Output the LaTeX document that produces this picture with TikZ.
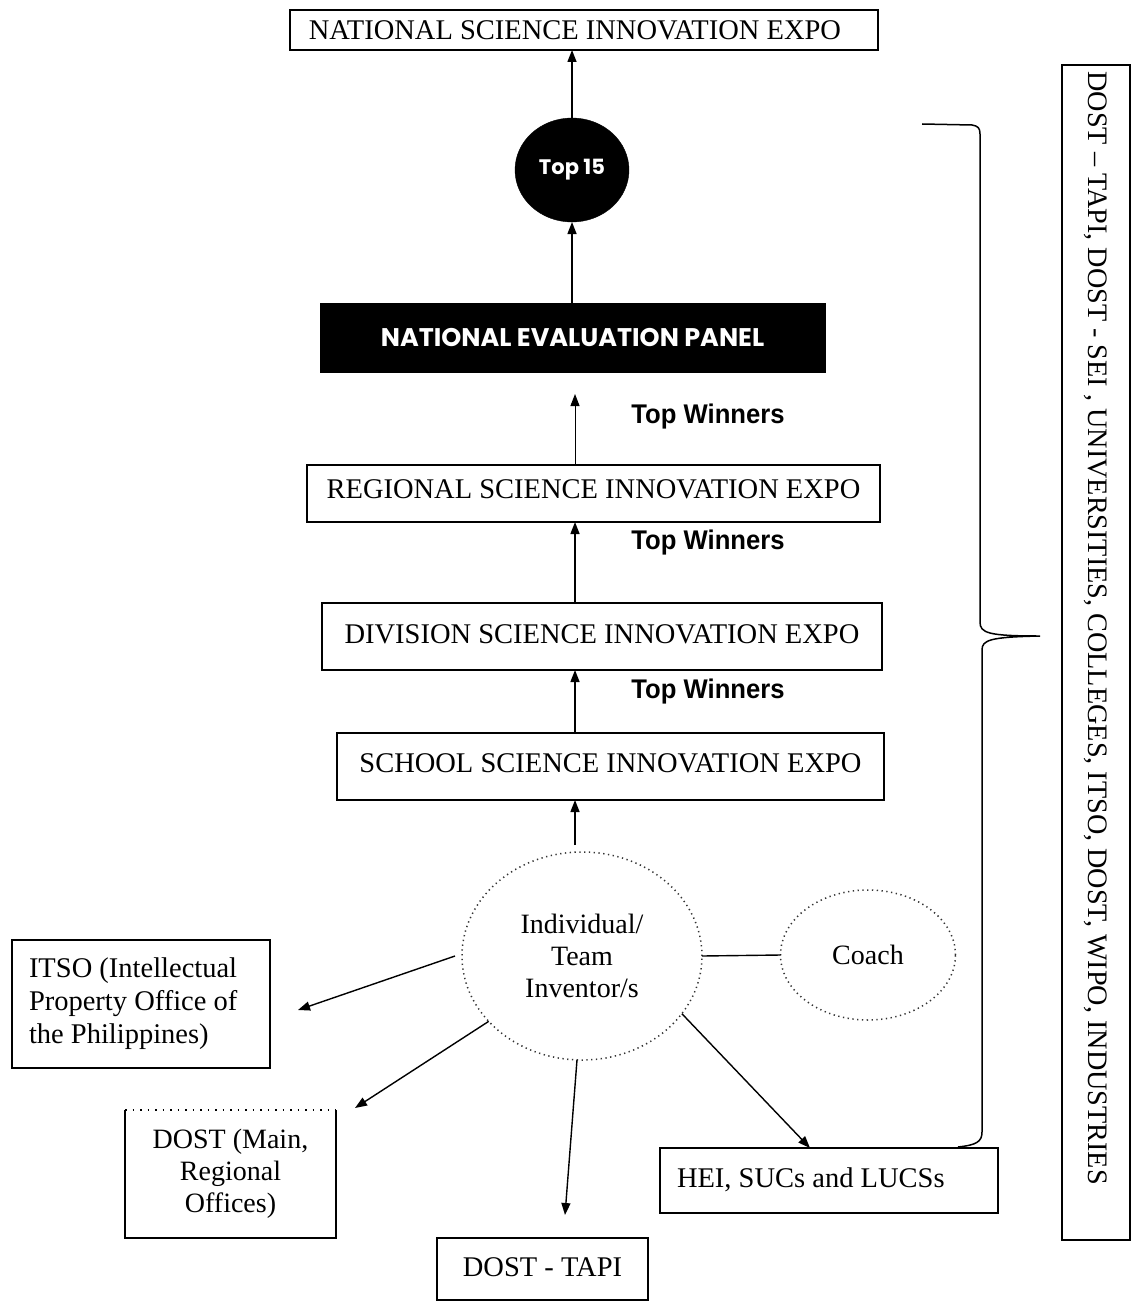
\documentclass[tikz,border=0pt]{standalone}
\usepackage{fontspec}
\setmainfont[WordSpace=0.75]{Liberation Serif}
\newfontfamily\sidefont[Ligatures=TeX]{Liberation Serif}
\newfontfamily\narrowsans[FakeStretch=0.95]{Liberation Sans}
\newfontfamily\panelfont{Poppins}
\usetikzlibrary{arrows.meta,shapes.geometric,calc}
\begin{document}
\begin{tikzpicture}[x=1pt,y=-1pt,
  every node/.style={inner sep=0pt,outer sep=0pt},
  bx/.style={draw,line width=1.4pt,rectangle,font=\fontsize{28.5}{33}\selectfont},
  blk/.style={fill=black,draw=black,text=white},
  dotc/.style={draw=black!80,line width=1.5pt,dash pattern=on 1.3pt off 3.5pt,ellipse,font=\fontsize{28}{32}\selectfont,align=center},
  arr/.style={line width=1.4pt,-{Triangle[length=12pt,width=9pt]}},
  lbl/.style={font=\narrowsans\bfseries\fontsize{27}{30}\selectfont}
]
\useasboundingbox (0,0) rectangle (1131,1303);

% top chain
\node[bx,minimum width=588,minimum height=40] (nat) at (584,30) {\hspace*{-18pt}NATIONAL SCIENCE INNOVATION EXPO};
\node[blk,ellipse,minimum width=114,minimum height=104,font=\panelfont\bfseries\fontsize{21}{24}\selectfont] (top) at (572,170) {Top 15};
\node[blk,rectangle,minimum width=505,minimum height=69,font=\panelfont\bfseries\fontsize{25.5}{28}\selectfont] (nep) at (572.5,337.5) {NATIONAL EVALUATION PANEL};
\node[bx,minimum width=573,minimum height=57] (reg) at (593.5,493.5) {\raisebox{9pt}{REGIONAL SCIENCE INNOVATION EXPO}};
\node[bx,minimum width=560,minimum height=67] (div) at (602,636.5) {\raisebox{4pt}{DIVISION SCIENCE INNOVATION EXPO}};
\node[bx,minimum width=547,minimum height=67] (sch) at (610.5,766.5) {\raisebox{6pt}{SCHOOL SCIENCE INNOVATION EXPO}};

\node[lbl] (tw1) at (708,417) {Top Winners};
\node[lbl] (tw2) at (708,543) {Top Winners};
\node[lbl] (tw3) at (708,692) {Top Winners};

% inventor cluster
\node[dotc,minimum width=240,minimum height=208] (ind) at (582,956) {Individual/\\Team\\Inventor/s};
\node[dotc,minimum width=175,minimum height=130] (coach) at (868,955) {Coach};

\node[bx,minimum width=258,minimum height=128,text width=224,align=flush left] (itso) at (141,1004) {ITSO (Intellectual\\Property Office of\\the Philippines)};
\node[font=\fontsize{28}{32}\selectfont,minimum width=211,minimum height=128,align=center] (dmain) at (230.5,1174) {DOST (Main,\\Regional\\Offices)};
\draw[line width=1.4pt] (dmain.north west) -- (dmain.south west) -- (dmain.south east) -- (dmain.north east);
\draw[line width=1.4pt,dash pattern=on 1.5pt off 6pt] (dmain.north west) -- (dmain.north east);
\node[bx,minimum width=211,minimum height=62] (tapi) at (542.5,1269) {\raisebox{4pt}{DOST - TAPI}};
\node[bx,minimum width=338,minimum height=65,text width=304,align=flush left] (hei) at (829,1180.5) {\raisebox{5pt}{HEI, SUCs and LUCSs}};

% side box
\node[draw,line width=1.4pt,rotate=-90,minimum width=1175,minimum height=68,text width=1162,align=flush left,font=\sidefont\fontsize{28.2}{30}\selectfont] (side) at (1096,652.5) {DOST – TAPI, DOST - SEI , UNIVERSITIES, COLLEGES, ITSO, DOST, WIPO, INDUSTRIES};

% chain arrows
\coordinate (ax) at (575,0);
\coordinate (ay) at (572,0);
\draw[arr] (top.north) -- (nat.south -| ay);
\draw[arr] (nep.north -| ay) -- (top.south);
\draw[arr,line width=1pt,shorten >=22pt] (reg.north -| ax) -- (nep.south -| ax);
\draw[arr] (div.north -| ax) -- (reg.south -| ax);
\draw[arr] (sch.north -| ax) -- (div.south -| ax);
\draw[arr] ([yshift=7pt]ind.north -| ax) -- (sch.south -| ax);

% inventor arrows
\draw[line width=1.4pt] (ind.east) -- (coach.west);
\draw[arr] ([xshift=-7pt]ind.west) -- ([xshift=28pt,yshift=-6pt]itso.east);
\draw[arr] (ind.215) -- ([xshift=19pt,yshift=2pt]dmain.north east);
\draw[arr] ([xshift=-5pt]ind.south) -- ([xshift=22.5pt,yshift=23pt]tapi.north);
\draw[arr] (ind.-30) -- ([xshift=-19pt]hei.north);

% brace
\draw[line width=1.5pt] (922,124) -- (972,125) .. controls (978,126) and (980,128) .. (980,134) -- (980,622)
  .. controls (980,633) and (988,636) .. (1040,636)
  .. controls (990,637) and (982,640) .. (982,650) -- (982,1132)
  .. controls (982,1142) and (976,1145) .. (958,1147);
\end{tikzpicture}
\end{document}
